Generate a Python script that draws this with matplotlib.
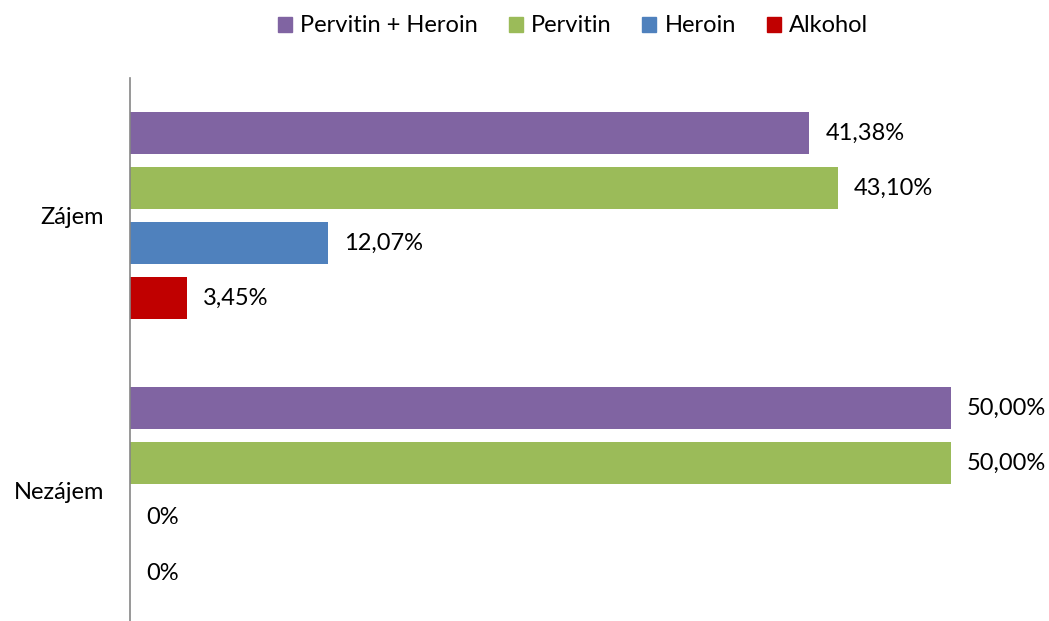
import matplotlib.pyplot as plt
import matplotlib.transforms as mtransforms

plt.rcParams['font.family'] = ['Lato', 'DejaVu Sans']

# data
categories = ['Zájem', 'Nezájem']
series = ['Pervitin + Heroin', 'Pervitin', 'Heroin', 'Alkohol']
colors = ['#8064A2', '#9BBB59', '#4F81BD', '#C00000']
values = {
    'Pervitin + Heroin': [41.38, 50.00],
    'Pervitin': [43.10, 50.00],
    'Heroin': [12.07, 0.0],
    'Alkohol': [3.45, 0.0],
}
labels = {
    'Pervitin + Heroin': ['41,38%', '50,00%'],
    'Pervitin': ['43,10%', '50,00%'],
    'Heroin': ['12,07%', '0%'],
    'Alkohol': ['3,45%', '0%'],
}

W, H = 1049, 621
FS = 17
fig = plt.figure(figsize=(W / 100, H / 100), dpi=100)
ax = fig.add_axes([130 / W, 0, (951 - 130) / W, 1 - 78 / H])

# label offset to the right of bar ends
off = mtransforms.ScaledTranslation(16 / 100, 0, fig.dpi_scale_trans)

# bar slots: 4 per group, one empty slot between groups
for ci, cat in enumerate(categories):
    for si, s in enumerate(series):
        pos = ci * 5 + si
        v = values[s][ci]
        ax.barh(pos, v, height=0.78, color=colors[si], edgecolor='none')
        ax.text(v, pos, labels[s][ci], va='center', ha='left', fontsize=FS,
                transform=ax.transData + off)

ax.set_xlim(0, 50)
ax.set_ylim((621 - 133) / 55, -1)
ax.set_yticks([1.5, 6.5])
ax.set_yticklabels(categories, fontsize=FS)
ax.tick_params(axis='y', length=0, pad=18.5)
ax.set_xticks([])
for sp in ['top', 'right', 'bottom']:
    ax.spines[sp].set_visible(False)
ax.spines['left'].set_color('#868686')
ax.spines['left'].set_linewidth(1.2)

handles = [plt.Rectangle((0, 0), 1, 1, color=c) for c in colors]
fig.legend(handles, series, loc='center', bbox_to_anchor=(573 / W, 1 - 26 / H),
           ncol=4, frameon=False, fontsize=FS, handlelength=0.6, handleheight=0.6,
           handletextpad=0.35, columnspacing=1.3)

fig.savefig('out.png', dpi=100)
